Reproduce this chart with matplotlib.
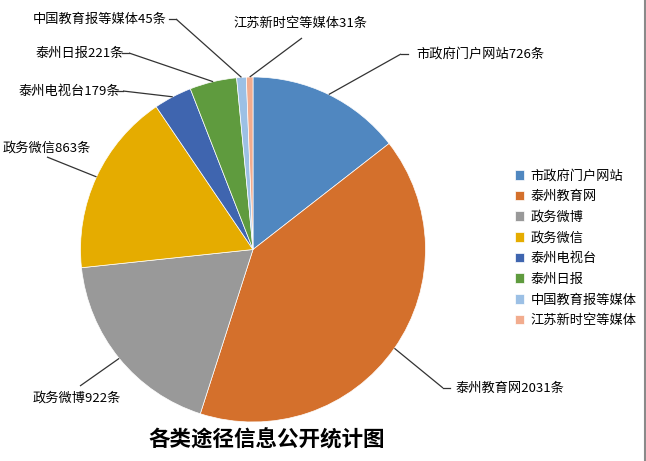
import numpy as np
import matplotlib
matplotlib.use("Agg")
import matplotlib.pyplot as plt

plt.rcParams['font.family'] = ['Noto Sans CJK SC', 'DejaVu Sans']

# data
names = ['市政府门户网站', '泰州教育网', '政务微博', '政务微信',
         '泰州电视台', '泰州日报', '中国教育报等媒体', '江苏新时空等媒体']
counts = [726, 2031, 922, 863, 179, 221, 45, 31]
colors = ['#5087C0', '#D4702C', '#999999', '#E5AC00',
          '#3F65AF', '#5F9B3E', '#9CC0E5', '#F2AC8E']

# label layout (pixel coords from top-left): text anchor, alignment, leader end, tick length
label_pos = [(416, 54), (455, 388), (77, 398), (47, 148),
             (120, 91), (124, 53), (167, 19), (300, 23)]
label_ha = ['left', 'left', 'center', 'center', 'right', 'right', 'right', 'center']
leader_end = [(401, 54), (443, 388), (80, 386), (47, 157),
              (123, 91), (129, 53), (176, 19), (302, 38)]
tick_dir = [1, 1, 0, 0, -1, -1, -1, 0]

W, H = 646, 461
fig = plt.figure(figsize=(W / 100, H / 100), dpi=100)
ax = fig.add_axes([0, 0, 1, 1])

cx, cy, r = 253, H - 249.5, 172.5
wedges, _ = ax.pie(counts, colors=colors, startangle=90, counterclock=False,
                   center=(cx, cy), radius=r, frame=True,
                   wedgeprops=dict(edgecolor='white', linewidth=0.5))
ax.set_xlim(0, W)
ax.set_ylim(0, H)
ax.axis('off')

# leader lines + data labels
for i, w in enumerate(wedges):
    ang = np.deg2rad((w.theta1 + w.theta2) / 2)
    x0, y0 = cx + r * np.cos(ang), cy + r * np.sin(ang)
    ex, ey = leader_end[i]
    ey = H - ey
    ax.plot([x0, ex], [y0, ey], color='#333333', lw=0.9, solid_capstyle='butt')
    if tick_dir[i] != 0:
        ax.plot([ex, ex + 7 * tick_dir[i]], [ey, ey], color='#333333', lw=0.9)
    tx, ty = label_pos[i]
    ax.text(tx, H - ty, f'{names[i]}{counts[i]}条', ha=label_ha[i], va='center',
            fontsize=9.5, color='black')

ax.legend(wedges, names, loc='upper left', bbox_to_anchor=(508, H - 163),
          bbox_transform=ax.transData, frameon=False, fontsize=9.5,
          handlelength=0.75, handleheight=0.75, handletextpad=0.45,
          labelspacing=0.58, borderpad=0)

ax.text(267, H - 440, '各类途径信息公开统计图', ha='center', va='center',
        fontsize=15.5, fontweight='bold', color='black')

# right border of the chart area
ax.plot([644.5, 644.5], [0, H], color='#8a8a8a', lw=1.5)

fig.savefig('out.png', dpi=100)
